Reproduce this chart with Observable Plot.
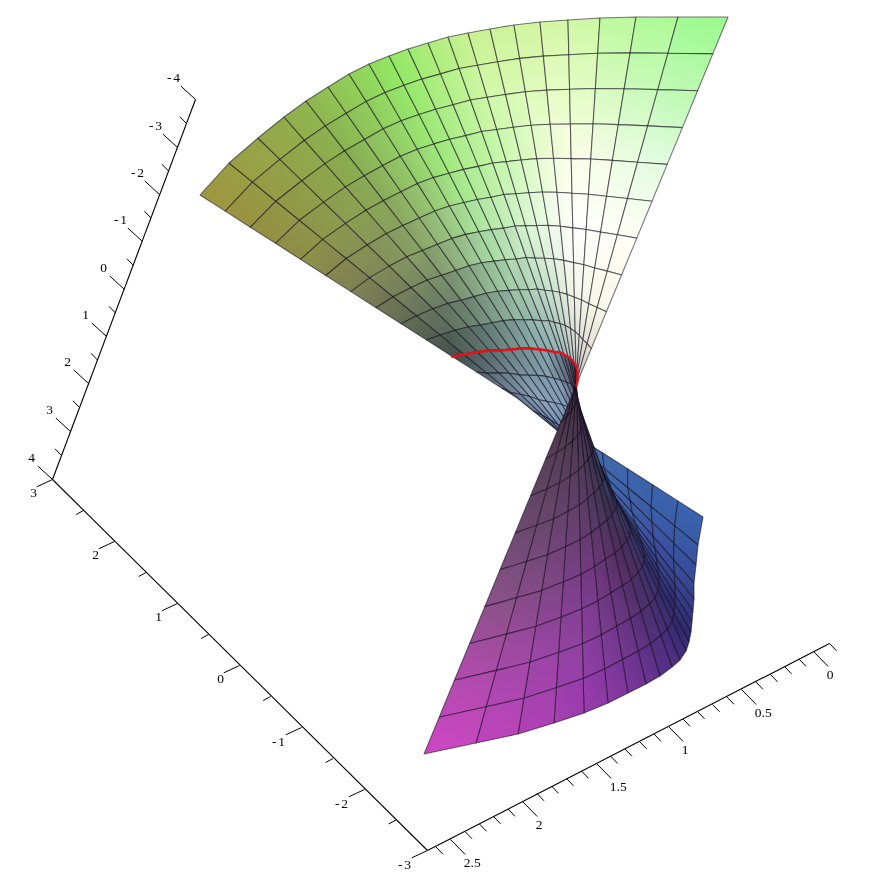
<!DOCTYPE html>
<html><head><meta charset="utf-8">
<style>html,body{margin:0;padding:0;background:#fff}svg{will-change:transform}.neg text{letter-spacing:2px}</style>
<script src="https://cdn.jsdelivr.net/npm/d3@7"></script>
<script src="https://cdn.jsdelivr.net/npm/@observablehq/plot@0.6"></script>
</head><body><div id="chart"></div>
<script>
// Mesh nodes: one row per ruling s, one column per arc t.
const rulingX = [
[728,712.8,697.6,682.4,667.2,652,636.8,621.6,606.4,591.2,576,560.8,545.6,530.4,515.2,500,484.8,469.6,454.4,439.2,424],
[678,667.9,657.8,647.7,637.6,627.5,617.4,607.3,597.2,587.1,577,566.9,556.8,546.7,536.6,526.5,516.4,506.3,496.2,486.1,476],
[636,630.1,624.2,618.3,612.4,606.5,600.6,594.7,588.8,582.9,577,571.1,565.2,559.3,553.4,547.5,541.6,535.7,529.8,523.9,518],
[600,597.7,595.4,593.1,590.8,588.5,586.2,583.9,581.6,579.3,577,574.7,572.4,570.1,567.8,565.5,563.2,560.9,558.6,556.3,554],
[568,568.8,569.6,570.4,571.2,572,572.8,573.6,574.4,575.2,576,576.8,577.6,578.4,579.2,580,580.8,581.6,582.4,583.2,584],
[540,543.4,546.8,550.2,553.6,557,560.4,563.8,567.2,570.6,574,577.4,580.8,584.2,587.6,591,594.4,597.8,601.2,604.6,608],
[514,519.7,525.4,531.1,536.8,542.5,548.2,553.9,559.6,565.3,571,576.7,582.4,588.1,593.8,599.5,605.2,610.9,616.6,622.3,628],
[490,497.8,505.6,513.4,521.2,529,536.8,544.6,552.4,560.2,568,575.8,583.6,591.4,599.2,607,614.8,622.6,630.4,638.2,646],
[468,477.6,487.2,496.8,506.4,516,525.6,535.2,544.8,554.4,564,573.6,583.2,592.8,602.4,612,621.6,631.2,640.8,650.4,660],
[448,459.2,470.4,481.6,492.8,504,515.2,526.4,537.6,548.8,560,571.2,582.4,593.6,604.8,616,627.2,638.4,649.6,660.8,672],
[428,440.6,453.2,465.8,478.4,491,503.6,516.2,528.8,541.4,554,566.6,579.2,591.8,604.4,617,629.6,642.2,654.8,667.4,680],
[408,421.9,435.8,449.7,463.6,477.5,491.4,505.3,519.2,533.1,547,560.9,574.8,588.7,602.6,616.5,630.4,644.3,658.2,672.1,686],
[389,404,419,434,449,464,479,494,509,524,539,554,569,584,599,614,629,644,659,674,689],
[369,385.1,401.2,417.3,433.4,449.5,465.6,481.7,497.8,513.9,530,546.1,562.2,578.3,594.4,610.5,626.6,642.7,658.8,674.9,691],
[349,366.2,383.3,400.5,417.6,434.8,451.9,469.1,486.2,503.4,520.5,537.7,554.8,572,589.1,606.3,623.4,640.6,657.7,674.9,692],
[328,346.3,364.5,382.8,401,419.3,437.5,455.8,474,492.3,510.5,528.8,547,565.3,583.5,601.8,620,638.3,656.5,674.8,693],
[306,325.4,344.8,364.2,383.6,403,422.4,441.8,461.2,480.6,500,519.4,538.8,558.2,577.6,597,616.4,635.8,655.2,674.6,694],
[284,304.5,325,345.5,366,386.5,407,427.5,448,468.5,489,509.5,530,550.5,571,591.5,612,632.5,653,673.5,694],
[258,279.9,301.8,323.7,345.6,367.5,389.4,411.3,433.2,455.1,477,498.9,520.8,542.7,564.6,586.5,608.4,630.3,652.2,674.1,696],
[229,252.5,275.9,299.4,322.8,346.3,369.7,393.2,416.6,440.1,463.5,487,510.4,533.9,557.3,580.8,604.2,627.7,651.1,674.6,698],
[200,225.2,250.3,275.5,300.6,325.8,350.9,376.1,401.2,426.4,451.5,476.7,501.8,527,552.1,577.3,602.4,627.6,652.7,677.9,703]
];
const rulingY = [
[17,53.9,90.7,127.6,164.4,201.3,238.1,275,311.8,348.7,385.5,422.4,459.2,496.1,532.9,569.8,606.6,643.5,680.3,717.2,754],
[17,53.3,89.6,125.9,162.2,198.5,234.8,271.1,307.4,343.7,380,416.3,452.6,488.9,525.2,561.5,597.8,634.1,670.4,706.7,743],
[17,52.9,88.7,124.6,160.4,196.3,232.1,268,303.8,339.7,375.5,411.4,447.2,483.1,518.9,554.8,590.6,626.5,662.3,698.2,734],
[18,53.3,88.5,123.8,159,194.3,229.5,264.8,300,335.3,370.5,405.8,441,476.3,511.5,546.8,582,617.3,652.5,687.8,723],
[20,54.7,89.3,124,158.6,193.3,227.9,262.6,297.2,331.9,366.5,401.2,435.8,470.5,505.1,539.8,574.4,609.1,643.7,678.4,713],
[22,56.1,90.1,124.2,158.2,192.3,226.3,260.4,294.4,328.5,362.5,396.6,430.6,464.7,498.7,532.8,566.8,600.9,634.9,669,703],
[25,58.4,91.8,125.2,158.6,192,225.4,258.8,292.2,325.6,359,392.4,425.8,459.2,492.6,526,559.4,592.8,626.2,659.6,693],
[29,61.8,94.5,127.3,160,192.8,225.5,258.3,291,323.8,356.5,389.3,422,454.8,487.5,520.3,553,585.8,618.5,651.3,684],
[33,65.2,97.3,129.5,161.6,193.8,225.9,258.1,290.2,322.4,354.5,386.7,418.8,451,483.1,515.3,547.4,579.6,611.7,643.9,676],
[37,68.5,100,131.5,163,194.5,226,257.5,289,320.5,352,383.5,415,446.5,478,509.5,541,572.5,604,635.5,667],
[43,73.9,104.7,135.6,166.4,197.3,228.1,259,289.8,320.7,351.5,382.4,413.2,444.1,474.9,505.8,536.6,567.5,598.3,629.2,660],
[49,79.1,109.2,139.3,169.4,199.5,229.6,259.7,289.8,319.9,350,380.1,410.2,440.3,470.4,500.5,530.6,560.7,590.8,620.9,651],
[56,85.3,114.6,143.9,173.2,202.5,231.8,261.1,290.4,319.7,349,378.3,407.6,436.9,466.2,495.5,524.8,554.1,583.4,612.7,642],
[64,92.4,120.8,149.2,177.6,206,234.4,262.8,291.2,319.6,348,376.4,404.8,433.2,461.6,490,518.4,546.8,575.2,603.6,632],
[74,101.4,128.8,156.2,183.6,211,238.4,265.8,293.2,320.6,348,375.4,402.8,430.2,457.6,485,512.4,539.8,567.2,594.6,622],
[87,113.2,139.4,165.6,191.8,218,244.2,270.4,296.6,322.8,349,375.2,401.4,427.6,453.8,480,506.2,532.4,558.6,584.8,611],
[101,125.9,150.8,175.7,200.6,225.5,250.4,275.3,300.2,325.1,350,374.9,399.8,424.7,449.6,474.5,499.4,524.3,549.2,574.1,599],
[117,140.3,163.6,186.9,210.2,233.5,256.8,280.1,303.4,326.7,350,373.3,396.6,419.9,443.2,466.5,489.8,513.1,536.4,559.7,583],
[138,159.4,180.7,202.1,223.4,244.8,266.1,287.5,308.8,330.2,351.5,372.9,394.2,415.6,436.9,458.3,479.6,501,522.3,543.7,565],
[163,182.1,201.2,220.3,239.4,258.5,277.6,296.7,315.8,334.9,354,373.1,392.2,411.3,430.4,449.5,468.6,487.7,506.8,525.9,545],
[195,211.1,227.2,243.3,259.4,275.5,291.6,307.7,323.8,339.9,356,372.1,388.2,404.3,420.4,436.5,452.6,468.7,484.8,500.9,517]
];
// Surface colours sampled at every 4th ruling (columns) and every 2nd arc (rows).
// The sheet folds at arc 10, so that arc has a colour row for each side.
const upperColors = [
["#96fa8c","#d4f8a8","#c8f090","#8fe860","#90b850","#a09840"],
["#b8f8b0","#e8fcc8","#d0f8a8","#98e870","#88b050","#989040"],
["#e0fce0","#fdfde8","#c8f8b0","#a0e880","#88a858","#8c8c48"],
["#fffff4","#ffffff","#d8f4d0","#a8e0a0","#88a068","#7c7c50"],
["#f8f8e8","#f0f4e4","#c0dcc8","#98c0a0","#708870","#606850"],
["#d0c8c0","#c8d0c8","#9cb8b8","#84a4a8","#607878","#404c48"]
];
const lowerColors = [
["#302830","#3a3038","#607080","#84a4a8","#607878","#404c48"],
["#5a4058","#4a3850","#3a2f48","#809ab8","#90a8c0","#5c7488"],
["#6c4a70","#5f3e68","#2c3048","#4468a8","#5878a0","#5878a0"],
["#8c5488","#763c84","#4c2c58","#2c3a70","#3f66ae","#4068a8"],
["#b44cae","#8c40a0","#50306e","#2c2c6c","#3a4c9c","#3c64ac"],
["#d048c4","#9a3aae","#5c308c","#302870","#34408c","#3864b0"]
];
// Axes
const zLabels = ["4","3","2","1","0","-1","-2","-3","-4"];
const zMajorX = [52,70,88,106,124,142,159,177,195];
const zMajorY = [479,431,383,336,289,241,194,147,99];
const zMinorX = [61,79,97,115,133,150.5,168,186];
const zMinorY = [455,407,359.5,312.5,265,217.5,170.5,123];
const yLabels = ["3","2","1","0","-1","-2","-3"];
const yMajorX = [52,114,177,239,301,364,427];
const yMajorY = [479,541,603,665,727,789,850];
const yMinorX = [83,145.5,208,270,332.5,395.5];
const yMinorY = [510,572,634,696,758,819.5];
const xLabels = ["0","0.5","1","1.5","2","2.5"];
const xMajorX = [813,741,668,596,522,450];
const xMajorY = [651,689,726,763,801,839];
const xMinorX = [829,798.5,784,770,755.5,726.5,712,697,682.5,653.5,639,624.5,610,581,566,551,536.5,507.5,493,479,464.5,435.5];
const xMinorY = [643,658.5,666,674,681.5,696.5,704,711,718.5,733.5,741,748.5,755.5,770.5,778,785.5,793,808.5,816,823.5,831,846.5];
const xEnds = [829,427], yEnds = [643,850];

const N = 20;
// Colour of mesh node (s, t) on one side of the fold
const colorAt = (table, s, t) => {
  const a = Math.min(s / 4, 4.999), b = Math.min(t / 2, 4.999);
  const i = Math.floor(a), j = Math.floor(b), u = a - i, v = b - j;
  const top = d3.interpolateRgb(table[j][i], table[j][i + 1])(u);
  const bot = d3.interpolateRgb(table[j + 1][i], table[j + 1][i + 1])(u);
  return d3.rgb(d3.interpolateRgb(top, bot)(v));
};
const mix = (a, b) => d3.interpolateRgb(a, b)(0.5);
const diff = (a, b) => { a = d3.rgb(a); b = d3.rgb(b); return Math.abs(a.r - b.r) + Math.abs(a.g - b.g) + Math.abs(a.b - b.b); };

const cells = [], gradients = [];
for (let s = N - 1; s >= 0; --s) for (let t = 0; t < N; ++t) {
  const id = `cell-${s}-${t}`;
  const table = t < 10 ? upperColors : lowerColors;
  const t0 = t < 10 ? t : t - 10;
  const c00 = colorAt(table, s, t0), c10 = colorAt(table, s + 1, t0),
        c01 = colorAt(table, s, t0 + 1), c11 = colorAt(table, s + 1, t0 + 1);
  const mid = (a, b, c, d) => [(a + b) / 2, (c + d) / 2];
  const X = rulingX, Y = rulingY;
  // run the cell's gradient across its two edges with the larger colour change
  const alongT = diff(mix(c00, c10), mix(c01, c11)) >= diff(mix(c00, c01), mix(c10, c11));
  const [ax, ay] = alongT ? mid(X[s][t], X[s + 1][t], Y[s][t], Y[s + 1][t]) : mid(X[s][t], X[s][t + 1], Y[s][t], Y[s][t + 1]);
  const [bx, by] = alongT ? mid(X[s][t + 1], X[s + 1][t + 1], Y[s][t + 1], Y[s + 1][t + 1]) : mid(X[s + 1][t], X[s + 1][t + 1], Y[s + 1][t], Y[s + 1][t + 1]);
  gradients.push({id, ax, ay, bx, by, from: alongT ? mix(c00, c10) : mix(c00, c01), to: alongT ? mix(c01, c11) : mix(c10, c11)});
  for (const k of [t, t + 1]) cells.push({
    cell: id, fill: `url(#${id})`,
    xa: X[s][k], ya: Y[s][k], xb: X[s + 1][k], yb: Y[s + 1][k]
  });
}
const redArc = rulingX.map((r, s) => ({x: r[10], y: rulingY[s][10]}));
const pts = (xs, ys, labels) => xs.map((x, i) => ({x, y: ys[i], label: labels ? labels[i] : ""}));
const zMajor = pts(zMajorX, zMajorY, zLabels), zMinor = pts(zMinorX, zMinorY);
const yMajor = pts(yMajorX, yMajorY, yLabels), yMinor = pts(yMinorX, yMinorY);
const xMajor = pts(xMajorX, xMajorY, xLabels), xMinor = pts(xMinorX, xMinorY);
const tickMark = (data, dx, dy) => Plot.link(data, {
  x1: "x", y1: "y", x2: d => d.x + dx, y2: d => d.y + dy, stroke: "#000", strokeWidth: 1
});
const labelMark = (data, dx, dy, neg, anchor = "middle") => Plot.text(data.filter(d => d.label.startsWith("-") === neg), {
  x: d => d.x + dx, y: d => d.y + dy, text: "label", fill: "#000", fontSize: 13.5,
  fontFamily: "Liberation Serif", textAnchor: anchor, lineAnchor: "middle",
  ...(neg ? {className: "neg"} : {})
});
const axisLine = (x1, y1, x2, y2) => Plot.link([{x1, y1, x2, y2}], {x1: "x1", y1: "y1", x2: "x2", y2: "y2", stroke: "#000", strokeWidth: 1.1});

// Colour ramps for the cells, written into the SVG as a mark of their own
const gradientDefs = (index, {x, y}) => {
  const defs = d3.create("svg:defs");
  for (const g of gradients) {
    const lg = defs.append("linearGradient").attr("id", g.id).attr("gradientUnits", "userSpaceOnUse")
      .attr("x1", x(g.ax)).attr("y1", y(g.ay)).attr("x2", x(g.bx)).attr("y2", y(g.by));
    lg.append("stop").attr("offset", 0).attr("stop-color", g.from);
    lg.append("stop").attr("offset", 1).attr("stop-color", g.to);
  }
  return defs.node();
};

const chart = Plot.plot({
  width: 884, height: 884, margin: 0,
  x: {domain: [0, 884], range: [0, 884], axis: null},
  y: {domain: [0, 884], range: [0, 884], axis: null},
  color: {type: "identity"},
  style: {background: "transparent"},
  marks: [
    gradientDefs,
    Plot.area(cells, {x1: "xa", y1: "ya", x2: "xb", y2: "yb", z: "cell", fill: "fill",
      stroke: "#100818", strokeOpacity: 0.55, strokeWidth: 1.1, curve: "linear"}),
    Plot.line(redArc, {x: "x", y: "y", stroke: "#e8101a", strokeWidth: 2.4, curve: "linear"}),
    axisLine(zMajorX[0], zMajorY[0], zMajorX[8], zMajorY[8]),
    axisLine(yMajorX[0], yMajorY[0], yMajorX[6], yMajorY[6]),
    axisLine(xEnds[0], yEnds[0], xEnds[1], yEnds[1]),
    tickMark(zMajor, -14.7, -13.5), tickMark(zMinor, -6.5, -6.7),
    tickMark(yMajor, -15.7, 7.3), tickMark(yMinor, -7.3, 4),
    tickMark(xMajor, 14.7, 15), tickMark(xMinor, 7, 7.3),
    labelMark(zMajor, -21, -22, false), labelMark(zMajor, -21, -22, true),
    labelMark(yMajor, -19, 13.5, false), labelMark(yMajor, -22, 14, true),
    labelMark(xMajor, 13.3, 23, false, "start")
  ]
});
document.getElementById("chart").append(chart);
</script></body></html>
